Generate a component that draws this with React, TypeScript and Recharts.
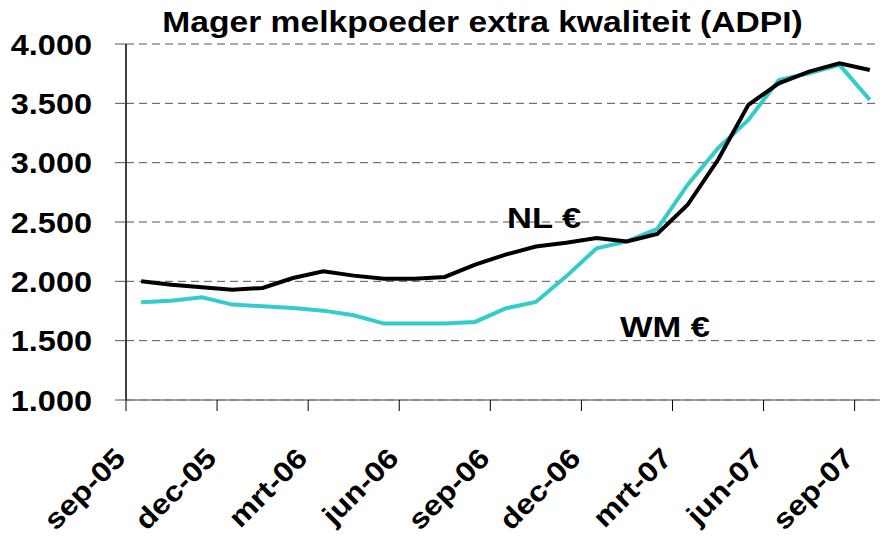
import React from 'react';
import { LineChart, Line, XAxis, YAxis, CartesianGrid, ReferenceDot } from 'recharts';

const months = [
  'sep-05', 'okt-05', 'nov-05', 'dec-05', 'jan-06', 'feb-06', 'mrt-06', 'apr-06', 'mei-06',
  'jun-06', 'jul-06', 'aug-06', 'sep-06', 'okt-06', 'nov-06', 'dec-06', 'jan-07', 'feb-07',
  'mrt-07', 'apr-07', 'mei-07', 'jun-07', 'jul-07', 'aug-07', 'sep-07',
];
const nlValues = [
  2000, 1972, 1950, 1930, 1944, 2028, 2084, 2048, 2022, 2022, 2037, 2140, 2225,
  2294, 2325, 2365, 2336, 2400, 2645, 3024, 3487, 3669, 3767, 3838, 3781,
];
const wmValues = [
  1823, 1837, 1865, 1804, 1790, 1776, 1753, 1714, 1644, 1644, 1644, 1658, 1772,
  1826, 2042, 2278, 2336, 2442, 2814, 3122, 3360, 3697, 3753, 3824, 3529,
];
const yTicks = [1000, 1500, 2000, 2500, 3000, 3500, 4000];
const xTickIndices = [0, 3, 6, 9, 12, 15, 18, 21, 24];
const title = 'Mager melkpoeder extra kwaliteit (ADPI)';
const seriesLabels = [
  { text: 'NL €', x: 12.55, y: 2447 },
  { text: 'WM €', x: 16.27, y: 1533 },
];

const data = months.map((m, i) => ({ month: m, pos: i + 0.5, nl: nlValues[i], wm: wmValues[i] }));

const FONT = '"Liberation Sans", Arial, Helvetica, sans-serif';
const fmt = (v: number) => String(v).replace(/\B(?=(\d{3})+(?!\d))/g, '.');

const YTick = (props: any) => {
  const { x, y, payload } = props;
  return (
    <text
      transform={`translate(${x},${y + 10.5}) scale(1.12,1)`}
      textAnchor="end"
      fontFamily={FONT}
      fontWeight="bold"
      fontSize={29}
      fill="#000"
    >
      {fmt(payload.value)}
    </text>
  );
};

const XTick = (props: any) => {
  const { x, y, payload } = props;
  return (
    <text
      transform={`translate(${x + 1},${y}) rotate(-45) scale(1.14,1)`}
      textAnchor="end"
      fontFamily={FONT}
      fontWeight="bold"
      fontSize={28}
      fill="#000"
    >
      {months[payload.value]}
    </text>
  );
};

const makeLabel = (text: string) => (p: any) => (
  <text
    transform={`translate(${p.cx},${p.cy}) scale(1.15,1)`}
    textAnchor="start"
    fontFamily={FONT}
    fontWeight="bold"
    fontSize={30}
    fill="#000"
  >
    {text}
  </text>
);

export default function App() {
  return (
    <div style={{ position: 'absolute', left: 0, top: 0, width: 880, height: 537, overflow: 'hidden', background: '#fff' }}>
      <LineChart width={890} height={537} data={data} margin={{ top: 44, right: 5, bottom: 7, left: 0 }}>
        <CartesianGrid vertical={false} stroke="#555" strokeDasharray="8 5" />
        <XAxis
          type="number"
          dataKey="pos"
          domain={[0, 25]}
          ticks={xTickIndices}
          interval={0}
          height={130}
          tickSize={11}
          tickMargin={49}
          axisLine={{ stroke: '#808080', strokeWidth: 1.5 }}
          tickLine={{ stroke: '#000' }}
          tick={<XTick />}
        />
        <YAxis
          type="number"
          domain={[1000, 4000]}
          ticks={yTicks}
          interval={0}
          width={126}
          tickSize={11}
          tickMargin={23}
          axisLine={{ stroke: '#000', strokeWidth: 1.5 }}
          tickLine={{ stroke: '#555' }}
          tick={<YTick />}
        />
        <Line type="linear" dataKey="wm" stroke="#33CCCC" strokeWidth={4} dot={false} isAnimationActive={false} />
        <Line type="linear" dataKey="nl" stroke="#000000" strokeWidth={4} dot={false} isAnimationActive={false} />
        {seriesLabels.map((l) => (
          <ReferenceDot key={l.text} x={l.x} y={l.y} r={0} ifOverflow="visible" shape={makeLabel(l.text)} />
        ))}
      </LineChart>
      <svg style={{ position: 'absolute', left: 0, top: 0 }} width={880} height={44}>
        <text
          transform="translate(482.5,32) scale(1.12,1)"
          textAnchor="middle"
          fontFamily={FONT}
          fontWeight="bold"
          fontSize={30}
          fill="#000"
        >
          {title}
        </text>
      </svg>
    </div>
  );
}
